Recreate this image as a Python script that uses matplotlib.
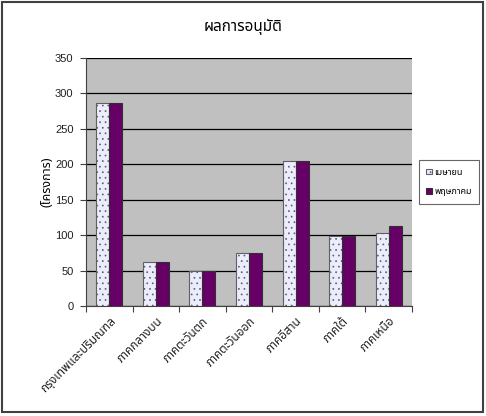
import numpy as np
import matplotlib
matplotlib.use("Agg")
import matplotlib.pyplot as plt
from matplotlib import font_manager
from matplotlib.ft2font import FT2Font
from matplotlib.patches import Rectangle

categories = ["กรุงเทพและปริมณฑล", "ภาคกลางบน", "ภาคตะวันตก", "ภาคตะวันออก",
              "ภาคอีสาน", "ภาคใต้", "ภาคเหนือ"]
series_names = ["เมษายน", "พฤษภาคม"]
april = [287, 62, 50, 75, 205, 99, 103]
may = [287, 62, 50, 75, 205, 99, 113]
yticks = [0, 50, 100, 150, 200, 250, 300, 350]
title = "ผลการอนุมัติ"
ylabel = "(โครงการ)"

# find a font that has Thai glyphs
thai_fonts = []
for f in font_manager.fontManager.ttflist:
    try:
        cm = FT2Font(f.fname).get_charmap()
        if 0x0E01 in cm and 0x0E31 in cm:
            thai_fonts.append(f.name)
    except Exception:
        pass
pref = ["Noto Sans Thai", "Tahoma", "Loma", "Garuda", "Norasi"]
chosen = None
for p in pref:
    if p in thai_fonts:
        chosen = p
        break
if chosen is None and thai_fonts:
    chosen = sorted(set(thai_fonts))[0]
fam = ([chosen] if chosen else []) + ["Liberation Sans", "DejaVu Sans"]
plt.rcParams['font.family'] = fam
plt.rcParams['hatch.color'] = '#9a9aff'
plt.rcParams['hatch.linewidth'] = 0.5

W, H = 486, 416
fig = plt.figure(figsize=(W / 100, H / 100), dpi=100)
fig.patch.set_facecolor("white")
fig.patches.append(Rectangle((2 / W, 4 / H), 481 / W, 410 / H, transform=fig.transFigure,
                             fill=False, edgecolor="#404040", linewidth=1.5))

ax = fig.add_axes([86 / W, 1 - 306 / H, 326 / W, 248 / H])
ax.set_facecolor("#c0c0c0")
x = np.arange(len(categories))
bw = 0.28
b1 = ax.bar(x - bw / 2, april, bw, facecolor="#ececff", edgecolor="#606060",
            hatch="...", linewidth=0.8, label=series_names[0], zorder=3)
b2 = ax.bar(x + bw / 2, may, bw, facecolor="#660066", edgecolor="#303030",
            linewidth=0.8, label=series_names[1], zorder=3)

ax.set_xlim(-0.5, len(categories) - 0.5)
ax.set_ylim(0, 350)
ax.set_yticks(yticks)
ax.yaxis.grid(True, color="black", linewidth=0.9, zorder=1)
ax.set_axisbelow(True)
for s in ["top", "right"]:
    ax.spines[s].set_visible(False)
ax.spines["left"].set_color("#404040")
ax.spines["bottom"].set_color("#404040")
ax.tick_params(axis="y", direction="out", length=4, labelsize=8, colors="#404040",
               labelcolor="#202020", pad=5)
for t in ax.get_yticklabels():
    t.set_fontfamily(["Liberation Sans", "DejaVu Sans"])
ax.set_xticks(np.arange(len(categories) + 1) - 0.5, minor=False)
ax.set_xticklabels([""] * (len(categories) + 1))
ax.tick_params(axis="x", direction="out", length=4, colors="#404040")
ax.set_xticks(x, minor=True)
ax.set_xticklabels(categories, minor=True, rotation=45, ha="right", va="top",
                   rotation_mode="anchor", fontsize=8.5, color="#202020")
ax.tick_params(axis="x", which="minor", length=0, pad=6)

ax.set_ylabel(ylabel, fontsize=9, fontweight="bold")
ax.yaxis.set_label_coords((53 - 86) / 326, 0.5)
fig.text(243 / W, 1 - 27 / H, title, ha="center", va="center", fontsize=11)

leg = fig.legend(handles=[b1, b2], labels=series_names, loc="center",
                 bbox_to_anchor=(449 / W, 1 - 182 / H), fontsize=6.5,
                 frameon=True, fancybox=False, handlelength=0.6, handleheight=0.6,
                 handletextpad=0.3, borderpad=0.8, labelspacing=1.2)
leg.get_frame().set_edgecolor("#404040")
leg.get_frame().set_linewidth(0.8)

fig.savefig("out.png", dpi=100)
